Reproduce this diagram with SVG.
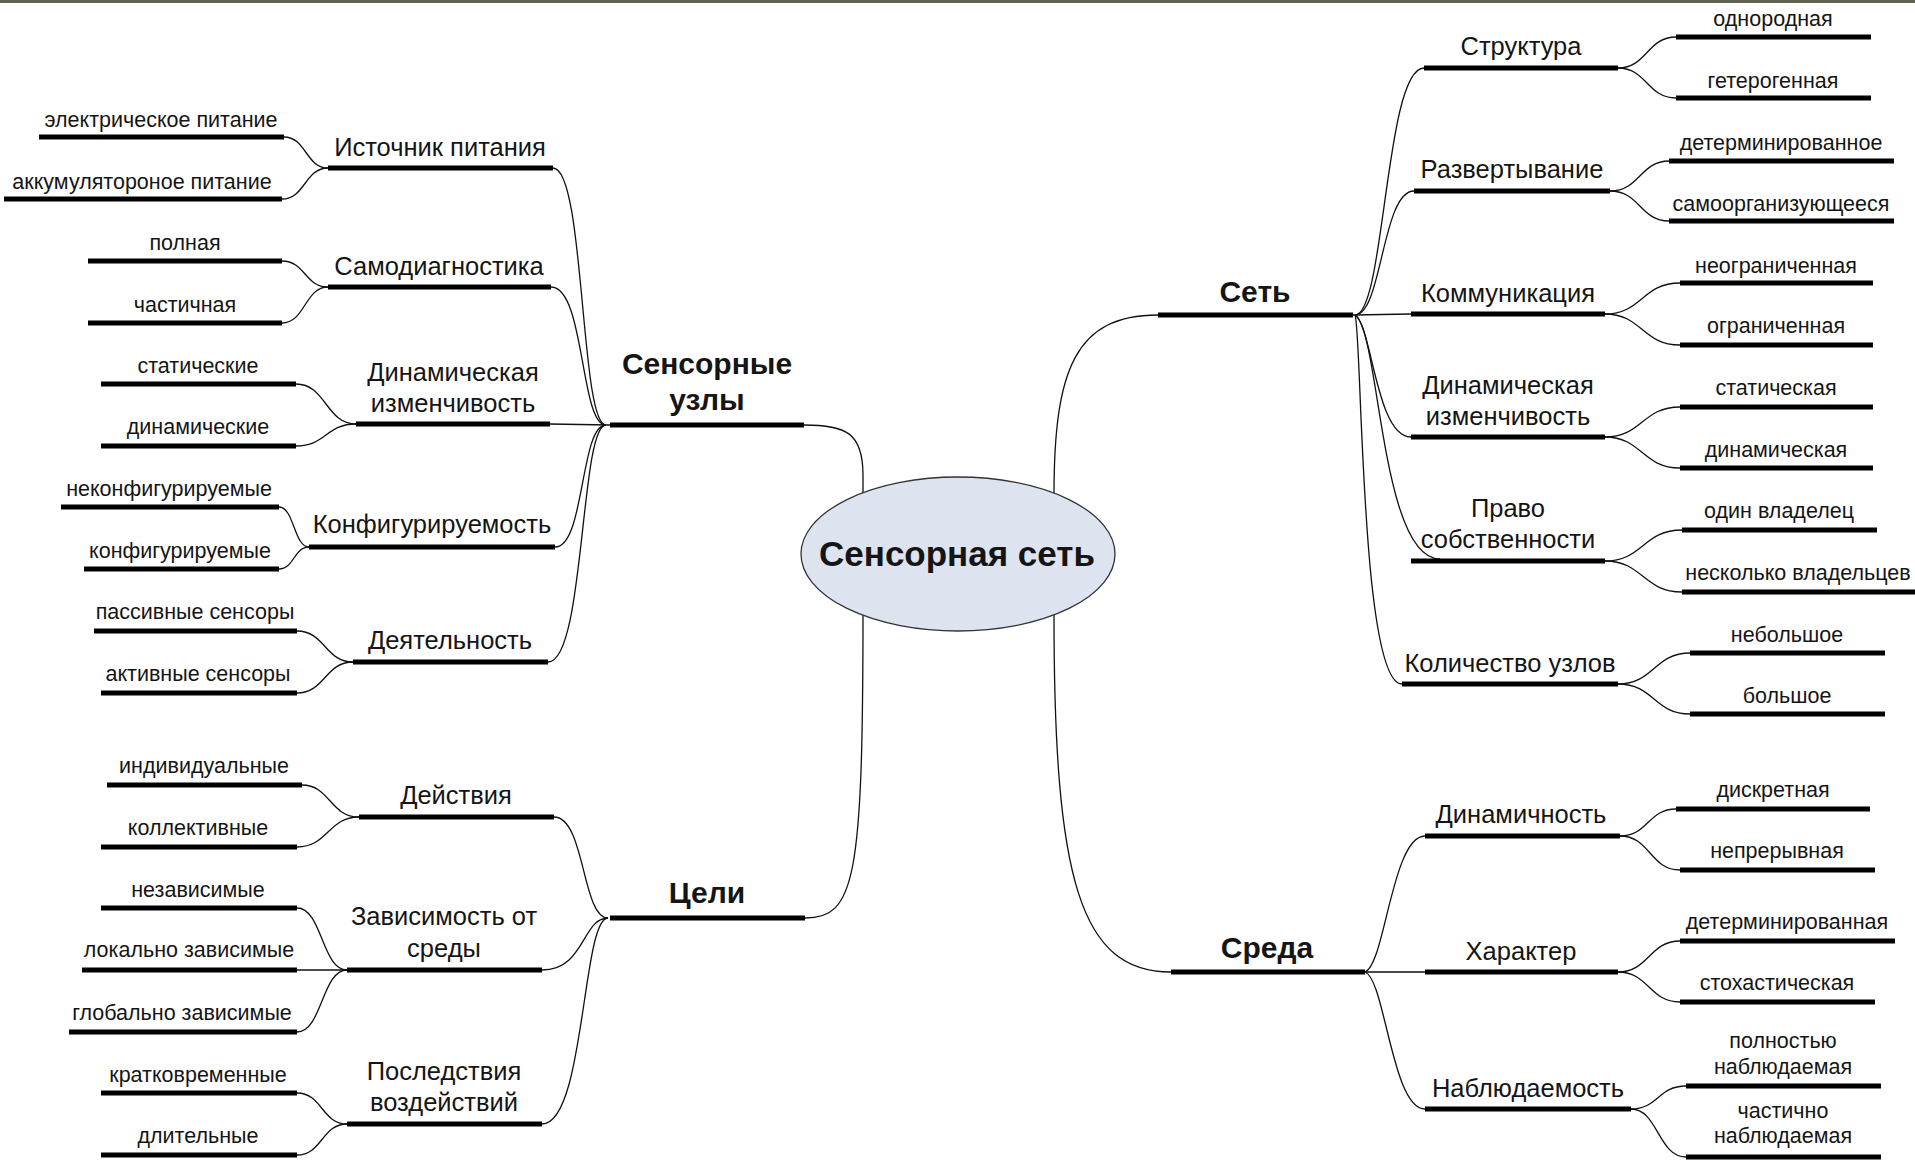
<svg xmlns="http://www.w3.org/2000/svg" width="1915" height="1160" viewBox="0 0 1915 1160">
<style>
.bar{stroke:#000;stroke-width:5;fill:none}
.c{fill:none;stroke:#111;stroke-width:1.3}
text{font-family:"Liberation Sans",Arial,sans-serif;fill:#151515;text-anchor:middle}
.lf{font-size:21.5px}
.hd{font-size:25.5px}
.mn{font-size:30px;font-weight:bold}
.rt{font-size:35px;font-weight:bold}
</style>
<rect x="0" y="0" width="1915" height="1160" fill="#fff"/>
<rect x="0" y="0" width="1915" height="3" fill="#5f6152"/>
<g id="connectors">
<path class="c" d="M804,425 C845,425 863,432 863,475 L863,500"/>
<path class="c" d="M863,610 C863,880 855,918 805,918"/>
<path class="c" d="M1054,495 C1054,370 1075,315 1158,315"/>
<path class="c" d="M1054,615 C1054,880 1080,972 1171,972"/>
<path class="c" d="M550,424 L610,425"/>
<path class="c" d="M606,425 C580,425 585,168 553,168"/>
<path class="c" d="M606,425 C580,425 585,287 551,287"/>
<path class="c" d="M606,425 C580,425 585,547 555,547"/>
<path class="c" d="M606,425 C580,425 585,662 548,662"/>
<path class="c" d="M608,918 C582,918 585,817 554,817"/>
<path class="c" d="M608,918 C582,918 585,970 542,970"/>
<path class="c" d="M608,918 C582,918 585,1124 542,1124"/>
<path class="c" d="M1353,315 L1411,314"/>
<path class="c" d="M1355,315 C1385,315 1385,68 1424,68"/>
<path class="c" d="M1355,315 C1382,315 1382,191 1414,191"/>
<path class="c" d="M1355,315 C1372,325 1376,437 1411,437"/>
<path class="c" d="M1355,315 C1380,330 1380,559 1440,559"/>
<path class="c" d="M1355,315 C1362,330 1360,684 1402,684"/>
<path class="c" d="M1365,972 L1425,972"/>
<path class="c" d="M1365,972 C1385,965 1392,836 1425,836"/>
<path class="c" d="M1365,972 C1385,979 1392,1109 1425,1109"/>
<path class="c" d="M284,137 C306,137 306,168 328,168"/>
<path class="c" d="M282,199 C305,199 305,168 328,168"/>
<path class="c" d="M282,261 C305,261 305,287 328,287"/>
<path class="c" d="M282,323 C305,323 305,287 328,287"/>
<path class="c" d="M296,384 C326,384 326,424 356,424"/>
<path class="c" d="M296,446 C326,446 326,424 356,424"/>
<path class="c" d="M279,507 C294,507 294,547 309,547"/>
<path class="c" d="M279,569 C294,569 294,547 309,547"/>
<path class="c" d="M297,631 C325,631 325,662 353,662"/>
<path class="c" d="M297,693 C325,693 325,662 353,662"/>
<path class="c" d="M302,785 C330,785 330,817 359,817"/>
<path class="c" d="M297,847 C328,847 328,817 359,817"/>
<path class="c" d="M297,908 C322,908 322,970 347,970"/>
<path class="c" d="M297,970 L347,970"/>
<path class="c" d="M297,1032 C322,1032 322,970 347,970"/>
<path class="c" d="M297,1093 C322,1093 322,1124 347,1124"/>
<path class="c" d="M297,1155 C322,1155 322,1124 347,1124"/>
<path class="c" d="M1618,68 C1647,68 1647,37 1676,37"/>
<path class="c" d="M1618,68 C1647,68 1647,98 1676,98"/>
<path class="c" d="M1610,191 C1640,191 1640,161 1669,161"/>
<path class="c" d="M1610,191 C1640,191 1640,221 1669,221"/>
<path class="c" d="M1605,314 C1642,314 1642,283 1680,283"/>
<path class="c" d="M1605,314 C1642,314 1642,345 1680,345"/>
<path class="c" d="M1605,437 C1642,437 1642,407 1680,407"/>
<path class="c" d="M1605,437 C1642,437 1642,468 1680,468"/>
<path class="c" d="M1605,561 C1643,561 1643,530 1682,530"/>
<path class="c" d="M1605,561 C1643,561 1643,592 1682,592"/>
<path class="c" d="M1618,684 C1654,684 1654,653 1690,653"/>
<path class="c" d="M1618,684 C1654,684 1654,714 1690,714"/>
<path class="c" d="M1620,836 C1648,836 1648,809 1676,809"/>
<path class="c" d="M1620,836 C1650,836 1650,870 1680,870"/>
<path class="c" d="M1618,972 C1649,972 1649,941 1680,941"/>
<path class="c" d="M1618,972 C1649,972 1649,1002 1680,1002"/>
<path class="c" d="M1631,1109 C1658,1109 1658,1086 1686,1086"/>
<path class="c" d="M1631,1109 C1658,1109 1658,1157 1686,1157"/>
</g>
<g id="root"><ellipse cx="958" cy="554" rx="157" ry="77" fill="#dde4f0" stroke="#333" stroke-width="1.3"/><text class="rt" x="957" y="566">Сенсорная сеть</text></g>
<g id="m-nodes"><line class="bar" x1="610" y1="425" x2="804" y2="425"/><text class="mn" x="707" y="374">Сенсорные</text><text class="mn" x="707" y="410">узлы</text></g>
<g id="m-goals"><line class="bar" x1="610" y1="918" x2="805" y2="918"/><text class="mn" x="707" y="903">Цели</text></g>
<g id="m-net"><line class="bar" x1="1158" y1="315" x2="1353" y2="315"/><text class="mn" x="1255" y="302">Сеть</text></g>
<g id="m-env"><line class="bar" x1="1171" y1="972" x2="1365" y2="972"/><text class="mn" x="1267" y="958">Среда</text></g>
<g id="h-power"><line class="bar" x1="328" y1="168" x2="553" y2="168"/><text class="hd" x="440" y="156">Источник питания</text></g>
<g id="h-selfdiag"><line class="bar" x1="328" y1="287" x2="551" y2="287"/><text class="hd" x="439" y="275">Самодиагностика</text></g>
<g id="h-dynvar"><line class="bar" x1="356" y1="424" x2="550" y2="424"/><text class="hd" x="453" y="381">Динамическая</text><text class="hd" x="453" y="412">изменчивость</text></g>
<g id="h-config"><line class="bar" x1="309" y1="547" x2="555" y2="547"/><text class="hd" x="432" y="533">Конфигурируемость</text></g>
<g id="h-activity"><line class="bar" x1="353" y1="662" x2="548" y2="662"/><text class="hd" x="450" y="649">Деятельность</text></g>
<g id="h-actions"><line class="bar" x1="359" y1="817" x2="554" y2="817"/><text class="hd" x="456" y="804">Действия</text></g>
<g id="h-envdep"><line class="bar" x1="347" y1="970" x2="542" y2="970"/><text class="hd" x="444" y="925">Зависимость от</text><text class="hd" x="444" y="957">среды</text></g>
<g id="h-conseq"><line class="bar" x1="347" y1="1124" x2="542" y2="1124"/><text class="hd" x="444" y="1080">Последствия</text><text class="hd" x="444" y="1111">воздействий</text></g>
<g id="l-elec"><line class="bar" x1="39" y1="137" x2="284" y2="137"/><text class="lf" x="161" y="127">электрическое питание</text></g>
<g id="l-akk"><line class="bar" x1="4" y1="199" x2="282" y2="199"/><text class="lf" x="142" y="189">аккумулятороное питание</text></g>
<g id="l-full"><line class="bar" x1="88" y1="261" x2="282" y2="261"/><text class="lf" x="185" y="250">полная</text></g>
<g id="l-part"><line class="bar" x1="88" y1="323" x2="282" y2="323"/><text class="lf" x="185" y="312">частичная</text></g>
<g id="l-stat"><line class="bar" x1="101" y1="384" x2="296" y2="384"/><text class="lf" x="198" y="373">статические</text></g>
<g id="l-dyn"><line class="bar" x1="101" y1="446" x2="296" y2="446"/><text class="lf" x="198" y="434">динамические</text></g>
<g id="l-nonconf"><line class="bar" x1="61" y1="507" x2="279" y2="507"/><text class="lf" x="169" y="496">неконфигурируемые</text></g>
<g id="l-conf"><line class="bar" x1="84" y1="569" x2="279" y2="569"/><text class="lf" x="180" y="558">конфигурируемые</text></g>
<g id="l-pass"><line class="bar" x1="94" y1="631" x2="297" y2="631"/><text class="lf" x="195" y="619">пассивные сенсоры</text></g>
<g id="l-act"><line class="bar" x1="101" y1="693" x2="297" y2="693"/><text class="lf" x="198" y="681">активные сенсоры</text></g>
<g id="l-ind"><line class="bar" x1="107" y1="785" x2="302" y2="785"/><text class="lf" x="204" y="773">индивидуальные</text></g>
<g id="l-coll"><line class="bar" x1="101" y1="847" x2="297" y2="847"/><text class="lf" x="198" y="835">коллективные</text></g>
<g id="l-indep"><line class="bar" x1="101" y1="908" x2="297" y2="908"/><text class="lf" x="198" y="897">независимые</text></g>
<g id="l-loc"><line class="bar" x1="82" y1="970" x2="297" y2="970"/><text class="lf" x="189" y="957">локально зависимые</text></g>
<g id="l-glob"><line class="bar" x1="69" y1="1032" x2="297" y2="1032"/><text class="lf" x="182" y="1020">глобально зависимые</text></g>
<g id="l-short"><line class="bar" x1="101" y1="1093" x2="297" y2="1093"/><text class="lf" x="198" y="1082">кратковременные</text></g>
<g id="l-long"><line class="bar" x1="101" y1="1155" x2="297" y2="1155"/><text class="lf" x="198" y="1143">длительные</text></g>
<g id="h-struct"><line class="bar" x1="1424" y1="68" x2="1618" y2="68"/><text class="hd" x="1521" y="55">Структура</text></g>
<g id="h-deploy"><line class="bar" x1="1414" y1="191" x2="1610" y2="191"/><text class="hd" x="1512" y="178">Развертывание</text></g>
<g id="h-comm"><line class="bar" x1="1411" y1="314" x2="1605" y2="314"/><text class="hd" x="1508" y="302">Коммуникация</text></g>
<g id="h-dynvar2"><line class="bar" x1="1411" y1="437" x2="1605" y2="437"/><text class="hd" x="1508" y="394">Динамическая</text><text class="hd" x="1508" y="425">изменчивость</text></g>
<g id="h-own"><line class="bar" x1="1411" y1="561" x2="1605" y2="561"/><text class="hd" x="1508" y="517">Право</text><text class="hd" x="1508" y="548">собственности</text></g>
<g id="h-count"><line class="bar" x1="1402" y1="684" x2="1618" y2="684"/><text class="hd" x="1510" y="672">Количество узлов</text></g>
<g id="h-dynam"><line class="bar" x1="1425" y1="836" x2="1620" y2="836"/><text class="hd" x="1521" y="823">Динамичность</text></g>
<g id="h-char"><line class="bar" x1="1425" y1="972" x2="1618" y2="972"/><text class="hd" x="1521" y="960">Характер</text></g>
<g id="h-obs"><line class="bar" x1="1425" y1="1109" x2="1631" y2="1109"/><text class="hd" x="1528" y="1097">Наблюдаемость</text></g>
<g id="r-homo"><line class="bar" x1="1676" y1="37" x2="1871" y2="37"/><text class="lf" x="1773" y="26">однородная</text></g>
<g id="r-hetero"><line class="bar" x1="1676" y1="98" x2="1871" y2="98"/><text class="lf" x="1773" y="88">гетерогенная</text></g>
<g id="r-determ"><line class="bar" x1="1669" y1="161" x2="1894" y2="161"/><text class="lf" x="1781" y="150">детерминированное</text></g>
<g id="r-selforg"><line class="bar" x1="1669" y1="221" x2="1894" y2="221"/><text class="lf" x="1781" y="211">самоорганизующееся</text></g>
<g id="r-unlim"><line class="bar" x1="1680" y1="283" x2="1873" y2="283"/><text class="lf" x="1776" y="273">неограниченная</text></g>
<g id="r-lim"><line class="bar" x1="1680" y1="345" x2="1873" y2="345"/><text class="lf" x="1776" y="333">ограниченная</text></g>
<g id="r-stat"><line class="bar" x1="1680" y1="407" x2="1873" y2="407"/><text class="lf" x="1776" y="395">статическая</text></g>
<g id="r-dyn"><line class="bar" x1="1680" y1="468" x2="1873" y2="468"/><text class="lf" x="1776" y="457">динамическая</text></g>
<g id="r-one"><line class="bar" x1="1682" y1="530" x2="1877" y2="530"/><text class="lf" x="1779" y="518">один владелец</text></g>
<g id="r-many"><line class="bar" x1="1682" y1="592" x2="1915" y2="592"/><text class="lf" x="1798" y="580">несколько владельцев</text></g>
<g id="r-small"><line class="bar" x1="1690" y1="653" x2="1885" y2="653"/><text class="lf" x="1787" y="642">небольшое</text></g>
<g id="r-large"><line class="bar" x1="1690" y1="714" x2="1885" y2="714"/><text class="lf" x="1787" y="703">большое</text></g>
<g id="r-discr"><line class="bar" x1="1676" y1="809" x2="1870" y2="809"/><text class="lf" x="1773" y="797">дискретная</text></g>
<g id="r-cont"><line class="bar" x1="1680" y1="870" x2="1875" y2="870"/><text class="lf" x="1777" y="858">непрерывная</text></g>
<g id="r-determ2"><line class="bar" x1="1680" y1="941" x2="1895" y2="941"/><text class="lf" x="1787" y="929">детерминированная</text></g>
<g id="r-stoch"><line class="bar" x1="1680" y1="1002" x2="1875" y2="1002"/><text class="lf" x="1777" y="990">стохастическая</text></g>
<g id="r-fullobs"><line class="bar" x1="1686" y1="1086" x2="1881" y2="1086"/><text class="lf" x="1783" y="1048">полностью</text><text class="lf" x="1783" y="1074">наблюдаемая</text></g>
<g id="r-partobs"><line class="bar" x1="1686" y1="1157" x2="1881" y2="1157"/><text class="lf" x="1783" y="1118">частично</text><text class="lf" x="1783" y="1143">наблюдаемая</text></g>
</svg>
